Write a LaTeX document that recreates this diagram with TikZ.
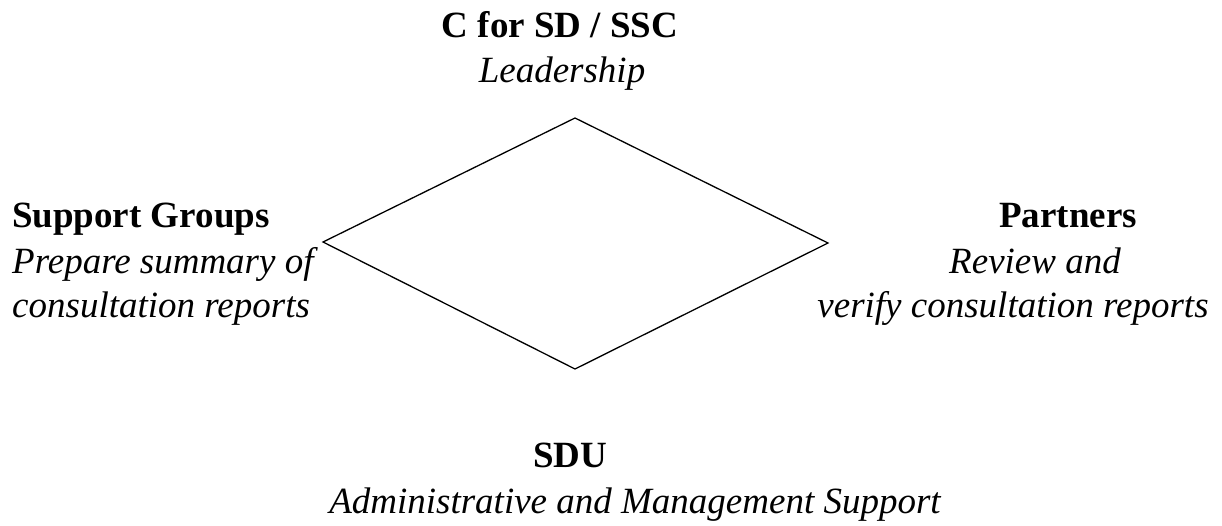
\documentclass[tikz,border=0pt]{standalone}
\usepackage{fontspec}
\setmainfont{Liberation Serif}
\begin{document}
\begin{tikzpicture}[x=1pt,y=-1pt,
  txt/.style={inner sep=0pt,font=\fontsize{37}{44}\selectfont},
  hd/.style={txt,font=\fontsize{37}{44}\selectfont\bfseries},
  it/.style={txt,font=\fontsize{37}{44}\selectfont\itshape},
  edge/.style={draw,line width=1.3pt,line join=miter}]
\useasboundingbox (0,0) rectangle (1222,525);
\coordinate (T) at (575,118);
\coordinate (L) at (323,242);
\coordinate (R) at (828,243);
\coordinate (B) at (575,369);
\draw[edge] (T) -- (R) -- (B) -- (L) -- cycle;
% top
\node[hd,anchor=base] (t1) at (560,37) {C for SD / SSC};
\node[it,anchor=base] (t2) at (562,82) {Leadership};
% left
\node[hd,anchor=base west] (l1) at (12,227) {Support Groups};
\node[it,anchor=base west] (l2) at (12,273) {Prepare summary of};
\node[it,anchor=base west] (l3) at (12,317) {consultation reports};
% right
\node[hd,anchor=base] (r1) at (1068,227) {Partners};
\node[it,anchor=base] (r2) at (1035,273) {Review and};
\node[it,anchor=base] (r3) at (1013,317) {verify consultation reports};
% bottom
\node[hd,anchor=base] (b1) at (570,467) {SDU};
\node[it,anchor=base] (b2) at (635,513) {Administrative and Management Support};
\end{tikzpicture}
\end{document}
